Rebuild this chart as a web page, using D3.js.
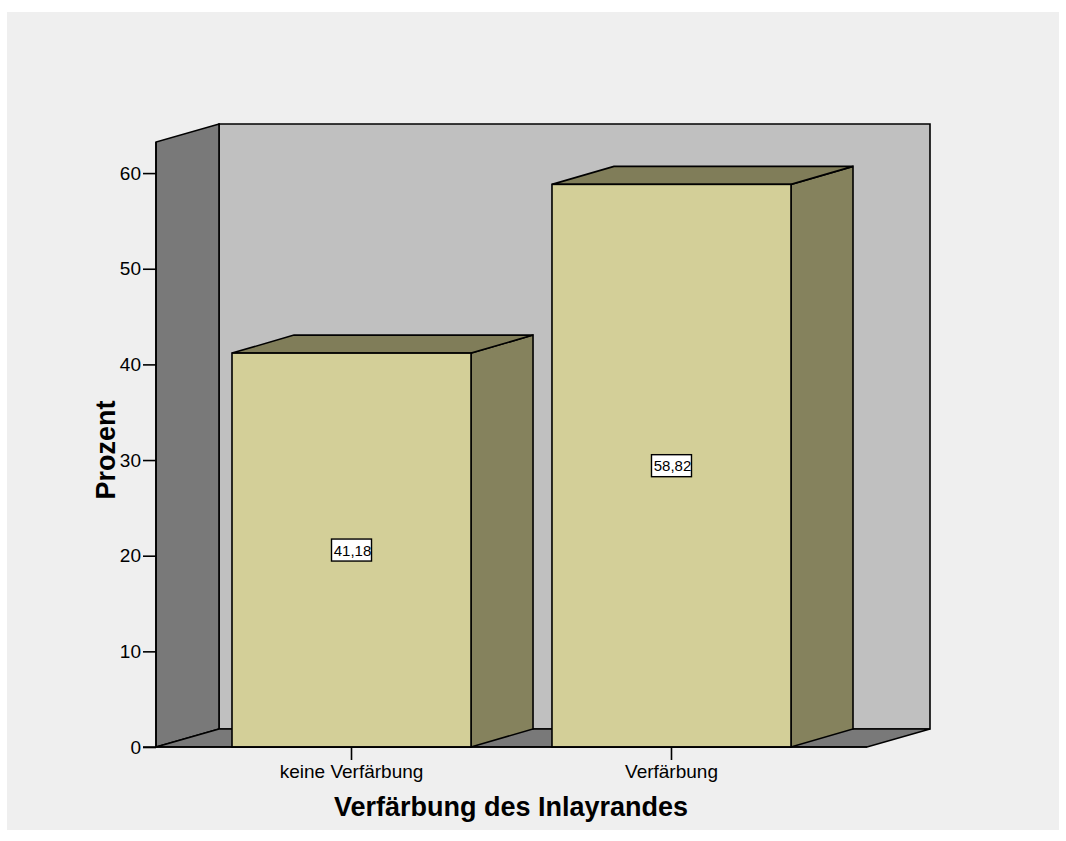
<!DOCTYPE html>
<html>
<head>
<meta charset="utf-8">
<script src="https://cdn.jsdelivr.net/npm/d3@7"></script>
<style>
  html, body { margin: 0; padding: 0; background: #ffffff; }
  svg { display: block; font-family: "Liberation Sans", Arial, sans-serif; }
</style>
</head>
<body>
<svg id="chart" width="1066" height="841"></svg>
<script>
// Data
const categories = ["keine Verfärbung", "Verfärbung"];
const percentValues = [41.18, 58.82];
const valueLabels = ["41,18", "58,82"];
const yTicks = [0, 10, 20, 30, 40, 50, 60];
const yAxisTitle = "Prozent";
const xAxisTitle = "Verfärbung des Inlayrandes";

(function () {
  const svg = d3.select("#chart");
  const fontFamily = "'Liberation Sans', Arial, sans-serif";

  // Panel background
  svg.append("rect")
    .attr("x", 7).attr("y", 12)
    .attr("width", 1052).attr("height", 818)
    .attr("fill", "#efefef");

  // Front plane geometry and 3D depth offset
  const plotLeft = 156, plotRight = 867, plotBase = 747, plotTop = 142;
  const dx = 63, dy = 18;

  const y = d3.scaleLinear().domain([0, 63.25]).range([plotBase, plotTop]);
  const x = d3.scaleBand().domain(categories).range([plotLeft, plotRight])
    .paddingInner(0.253).paddingOuter(0.2375);

  const poly = pts => pts.map(p => p.join(",")).join(" ");
  const strokeW = 1.6;

  // Back wall
  svg.append("polygon")
    .attr("points", poly([[plotLeft + dx, plotTop - dy], [plotRight + dx, plotTop - dy], [plotRight + dx, plotBase - dy], [plotLeft + dx, plotBase - dy]]))
    .attr("fill", "#c0c0c0").attr("stroke", "#000").attr("stroke-width", strokeW);

  // Left side wall
  svg.append("polygon")
    .attr("points", poly([[plotLeft, plotBase], [plotLeft, plotTop], [plotLeft + dx, plotTop - dy], [plotLeft + dx, plotBase - dy]]))
    .attr("fill", "#797979").attr("stroke", "#000").attr("stroke-width", strokeW);

  // Floor
  svg.append("polygon")
    .attr("points", poly([[plotLeft, plotBase], [plotLeft + dx, plotBase - dy], [plotRight + dx, plotBase - dy], [plotRight, plotBase]]))
    .attr("fill", "#797979").attr("stroke", "#000").attr("stroke-width", strokeW);

  // Bars drawn as boxes: side, top, then front
  const bars = svg.append("g").selectAll("g").data(categories).join("g");
  bars.each(function (c, i) {
    const g = d3.select(this);
    const x0 = x(c), x1 = x(c) + x.bandwidth();
    const yt = y(percentValues[i]);
    g.append("polygon")
      .attr("points", poly([[x1, plotBase], [x1, yt], [x1 + dx - 1, yt - dy], [x1 + dx - 1, plotBase - dy]]))
      .attr("fill", "#85825d").attr("stroke", "#000").attr("stroke-width", strokeW);
    g.append("polygon")
      .attr("points", poly([[x0, yt], [x0 + dx - 1, yt - dy], [x1 + dx - 1, yt - dy], [x1, yt]]))
      .attr("fill", "#807d59").attr("stroke", "#000").attr("stroke-width", strokeW);
    g.append("rect")
      .attr("x", x0).attr("y", yt)
      .attr("width", x.bandwidth()).attr("height", plotBase - yt)
      .attr("fill", "#d3cf98").attr("stroke", "#000").attr("stroke-width", strokeW);
  });

  // Front axis lines
  svg.append("line").attr("x1", plotLeft).attr("x2", plotLeft).attr("y1", plotTop).attr("y2", plotBase)
    .attr("stroke", "#000").attr("stroke-width", strokeW);
  svg.append("line").attr("x1", plotLeft - 13).attr("x2", plotRight).attr("y1", plotBase).attr("y2", plotBase)
    .attr("stroke", "#000").attr("stroke-width", strokeW);

  // Y axis
  const yAxis = d3.axisLeft(y).tickValues(yTicks).tickSize(13).tickPadding(2).tickFormat(d3.format("d"));
  const yg = svg.append("g").attr("transform", `translate(${plotLeft},0)`).call(yAxis);
  yg.select(".domain").remove();
  yg.selectAll(".tick line").attr("stroke", "#000").attr("stroke-width", strokeW);
  yg.selectAll(".tick text").attr("font-size", 19).attr("fill", "#000").attr("font-family", fontFamily);

  // X axis
  const xAxis = d3.axisBottom(x).tickSize(13).tickPadding(5);
  const xg = svg.append("g").attr("transform", `translate(0,${plotBase})`).call(xAxis);
  xg.select(".domain").remove();
  xg.selectAll(".tick line").attr("stroke", "#000").attr("stroke-width", strokeW);
  xg.selectAll(".tick text").attr("font-size", 19).attr("fill", "#000").attr("font-family", fontFamily);

  // Value labels in boxes at half bar height
  categories.forEach((c, i) => {
    const cx = x(c) + x.bandwidth() / 2;
    const cy = y(percentValues[i] / 2);
    const w = 40, h = 22;
    svg.append("rect")
      .attr("x", cx - w / 2).attr("y", cy - h / 2)
      .attr("width", w).attr("height", h)
      .attr("fill", "#fff").attr("stroke", "#000").attr("stroke-width", 1.4);
    svg.append("text")
      .attr("x", cx + 1).attr("y", cy + 5.5)
      .attr("text-anchor", "middle").attr("font-size", 15).attr("fill", "#000")
      .attr("font-family", fontFamily)
      .text(valueLabels[i]);
  });

  // Axis titles
  svg.append("text")
    .attr("transform", "translate(115,450) rotate(-90)")
    .attr("text-anchor", "middle").attr("font-size", 27).attr("font-weight", "bold")
    .attr("font-family", fontFamily)
    .text(yAxisTitle);

  svg.append("text")
    .attr("x", 511).attr("y", 816)
    .attr("text-anchor", "middle").attr("font-size", 27).attr("font-weight", "bold")
    .attr("font-family", fontFamily)
    .text(xAxisTitle);
})();
</script>
</body>
</html>
